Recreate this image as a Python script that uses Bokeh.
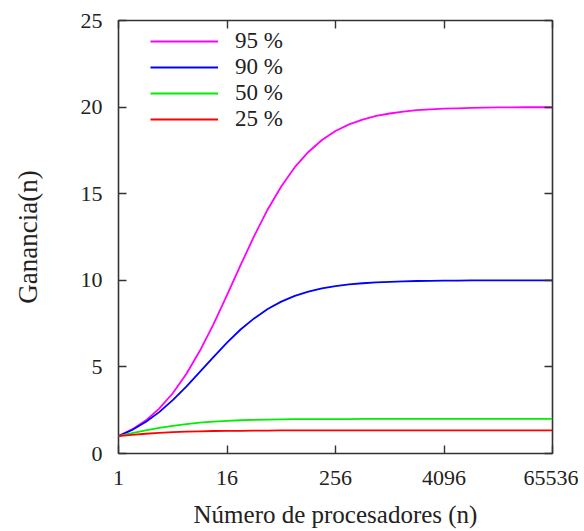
from bokeh.plotting import figure
from bokeh.models import FixedTicker, LinearAxis, LogAxis, Legend, LegendItem
from bokeh.embed import file_html
from bokeh.resources import INLINE

# Number of processors (x) and speedup values
processors = [1, 1.414, 2, 2.828, 4, 5.657, 8, 11.31, 16, 22.63, 32, 45.25, 64, 90.51,
              128, 181, 256, 362, 512, 724, 1024, 1448, 2048, 2896, 4096, 5793,
              8192, 11585, 16384, 23170, 32768, 46341, 65536]
gain_95 = [1.0, 1.39, 1.90, 2.59, 3.48, 4.59, 5.93, 7.46, 9.14, 10.87, 12.55, 14.09,
           15.42, 16.53, 17.41, 18.10, 18.62, 19.00, 19.28, 19.49, 19.63, 19.74,
           19.82, 19.87, 19.91, 19.93, 19.95, 19.97, 19.98, 19.98, 19.99, 19.99, 19.99]
gain_90 = [1.0, 1.36, 1.82, 2.39, 3.08, 3.86, 4.71, 5.57, 6.40, 7.16, 7.80, 8.34,
           8.77, 9.10, 9.34, 9.53, 9.66, 9.76, 9.83, 9.88, 9.91, 9.94, 9.96, 9.97,
           9.98, 9.98, 9.99, 9.99, 9.99, 10.0, 10.0, 10.0, 10.0]
gain_50 = [1.0, 1.17, 1.33, 1.48, 1.60, 1.70, 1.78, 1.84, 1.88, 1.92, 1.94, 1.96,
           1.97, 1.98, 1.98, 1.99, 1.99, 1.99, 2.0, 2.0, 2.0, 2.0, 2.0, 2.0,
           2.0, 2.0, 2.0, 2.0, 2.0, 2.0, 2.0, 2.0, 2.0]
gain_25 = [1.0, 1.08, 1.14, 1.19, 1.23, 1.26, 1.28, 1.30, 1.31, 1.31, 1.32, 1.32,
           1.33, 1.33, 1.33, 1.33, 1.33, 1.33, 1.33, 1.33, 1.33, 1.33, 1.33, 1.33,
           1.33, 1.33, 1.33, 1.33, 1.33, 1.33, 1.33, 1.33, 1.33]
series_labels = ["95 %", "90 %", "50 %", "25 %"]
series_colors = ["#ff00ff", "#0000ff", "#00ee00", "#ff0000"]
x_ticks = [1, 16, 256, 4096, 65536]
x_tick_labels = ["1", "16", "256", "4096", "65536"]
y_ticks = [0, 5, 10, 15, 20, 25]

FONT = "Liberation Serif"
TICK_FS = "22px"
LABEL_FS = "25px"
LEGEND_FS = "23px"
INK = "#222222"

p = figure(frame_width=434, frame_height=433, x_axis_type="log",
           x_range=(1, 65536), y_range=(0, 25),
           output_backend="svg", toolbar_location=None,
           min_border_left=118, min_border_right=26, min_border_top=20,
           min_border_bottom=76)
p.grid.visible = False
p.outline_line_color = "#333333"
p.outline_line_width = 1.6
p.background_fill_color = "white"
p.border_fill_color = "white"

renderers = []
for ys, c in zip([gain_95, gain_90, gain_50, gain_25], series_colors):
    r = p.line(processors, ys, line_color=c, line_width=1.8)
    renderers.append(r)

for ax in p.xaxis:
    ax.ticker = FixedTicker(ticks=x_ticks)
    ax.major_label_overrides = {t: l for t, l in zip(x_ticks, x_tick_labels)}
    ax.axis_label = "Número de procesadores (n)"
for ax in p.yaxis:
    ax.ticker = FixedTicker(ticks=y_ticks)
    ax.axis_label = "Ganancia(n)"

for ax in list(p.xaxis) + list(p.yaxis):
    ax.minor_tick_line_color = None
    ax.major_tick_in = 8
    ax.major_tick_out = 0
    ax.major_tick_line_color = "#333333"
    ax.major_tick_line_width = 1.4
    ax.axis_line_color = None
    ax.major_label_text_font = FONT
    ax.major_label_text_font_size = TICK_FS
    ax.major_label_text_color = INK
    ax.axis_label_text_font = FONT
    ax.axis_label_text_font_size = LABEL_FS
    ax.axis_label_text_font_style = "normal"
    ax.axis_label_text_color = INK

p.yaxis.axis_label_text_font_size = "27px"
p.xaxis.major_label_standoff = 17
p.xaxis.axis_label_standoff = 13
p.yaxis.major_label_standoff = 16
p.yaxis.axis_label_standoff = 35

top = LogAxis(ticker=FixedTicker(ticks=x_ticks), major_label_text_font_size="1px",
              major_label_text_alpha=0,
              major_tick_in=8, major_tick_out=0, minor_tick_line_color=None,
              axis_line_color=None, major_tick_line_color="#333333",
              major_tick_line_width=1.4, major_label_standoff=0)
right = LinearAxis(ticker=FixedTicker(ticks=y_ticks), major_label_text_font_size="1px",
                   major_label_text_alpha=0,
                   major_tick_in=8, major_tick_out=0, minor_tick_line_color=None,
                   axis_line_color=None, major_tick_line_color="#333333",
                   major_tick_line_width=1.4, major_label_standoff=0)
p.add_layout(top, "above")
p.add_layout(right, "right")

legend = Legend(items=[LegendItem(label=l, renderers=[r]) for l, r in zip(series_labels, renderers)],
                location=(32, 321), border_line_color=None, background_fill_alpha=0,
                padding=0, margin=0, spacing=0, glyph_width=68, glyph_height=26,
                label_height=26, label_standoff=17,
                label_text_font=FONT, label_text_font_size=LEGEND_FS, label_text_color=INK)
p.add_layout(legend)

open("out.html", "w").write(file_html(p, INLINE))
